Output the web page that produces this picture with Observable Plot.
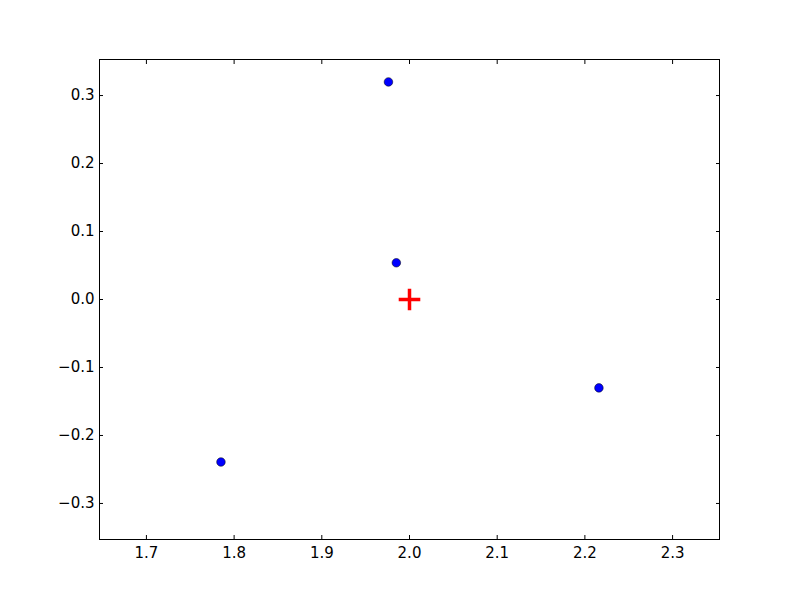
<!DOCTYPE html>
<html>
<head>
<meta charset="utf-8">
<script src="https://cdn.jsdelivr.net/npm/d3@7"></script>
<script src="https://cdn.jsdelivr.net/npm/@observablehq/plot@0.6"></script>
<style>
  html, body { margin: 0; padding: 0; background: #fff; }
  #chart svg { display: block; }
  #chart svg text { font-family: "DejaVu Sans", sans-serif !important; font-size: 15px !important; fill: black; }
</style>
</head>
<body>
<div id="chart"></div>
<script>
const pointX = [1.976, 1.985, 2.216, 1.785];
const pointY = [0.320, 0.054, -0.130, -0.239];
const centerX = [2.0];
const centerY = [0.0];
const xTicks = [1.7, 1.8, 1.9, 2.0, 2.1, 2.2, 2.3];
const yTicks = [-0.3, -0.2, -0.1, 0.0, 0.1, 0.2, 0.3];

const points = pointX.map((x, i) => ({x, y: pointY[i]}));
const centers = centerX.map((x, i) => ({x, y: centerY[i]}));
const fmt = d3.format(".1f");

const chart = Plot.plot({
  width: 800,
  height: 600,
  marginLeft: 99,
  marginRight: 81,
  marginTop: 59,
  marginBottom: 61,
  style: {fontFamily: "DejaVu Sans", fontSize: "15px", color: "black", background: "white"},
  x: {domain: [1.6465, 2.3535], ticks: xTicks, tickFormat: fmt, label: null},
  y: {domain: [-0.353, 0.353], ticks: yTicks, tickFormat: fmt, label: null},
  marks: [
    Plot.frame({stroke: "black", strokeWidth: 1}),
    Plot.axisX({anchor: "bottom", ticks: xTicks, tickFormat: fmt, tickSize: 0, tickPadding: 8, label: null}),
    Plot.axisY({anchor: "left", ticks: yTicks, tickFormat: fmt, tickSize: 0, tickPadding: 5, label: null}),
    Plot.axisX({anchor: "bottom", ticks: xTicks, text: null, tickSize: -4, label: null}),
    Plot.axisX({anchor: "top", ticks: xTicks, text: null, tickSize: -4, label: null}),
    Plot.axisY({anchor: "left", ticks: yTicks, text: null, tickSize: -4, label: null}),
    Plot.axisY({anchor: "right", ticks: yTicks, text: null, tickSize: -4, label: null}),
    Plot.dot(points, {x: "x", y: "y", r: 4.3, fill: "#0000ff", stroke: "black", strokeWidth: 0.5}),
    Plot.dot(centers, {x: "x", y: "y", symbol: "plus", r: 7, stroke: "red", strokeWidth: 3.5})
  ]
});
document.getElementById("chart").appendChild(chart);
</script>
</body>
</html>
